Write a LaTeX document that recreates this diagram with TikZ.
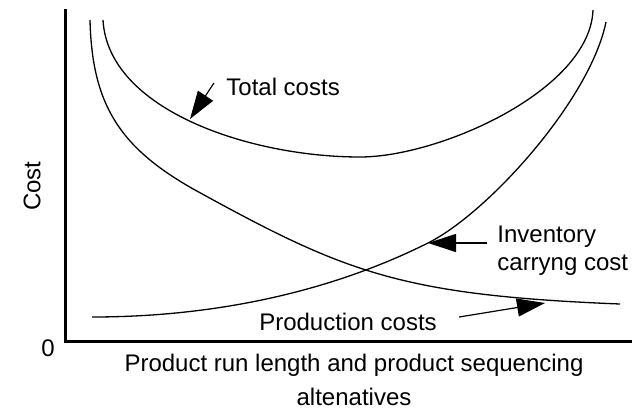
\documentclass[tikz,border=0pt]{standalone}
\usepackage{fontspec}
\setmainfont{Liberation Sans}
\usepackage{tikz}
\usetikzlibrary{arrows.meta, positioning, calc}

\begin{document}
\begin{tikzpicture}[x=0.5pt, y=-0.5pt,
        costcurve/.style={line width=0.65pt},
        costarrow/.style={line width=0.6pt, -{Triangle[length=14pt, width=9pt]}},
        costlabel/.style={font=\fontsize{12}{14}\selectfont, inner sep=0pt}]
    \useasboundingbox (0,0) rectangle (636,413);
    % axes
    \draw[line width=1.75pt] (65.5,9) -- (65.5,341.5) -- (632,341.5);
    \node[costlabel, rotate=90] (costaxis) at (32,186) {Cost};
    \node[costlabel] (zero) at (48,348) {0};
    \node[costlabel, align=center, font=\fontsize{12}{17}\selectfont] (runaxis) at (354,380)
        {Product run length and product sequencing\\ altenatives};
    % curves
    \draw[costcurve] (90,20) .. controls (92,105) and (120,148) .. (195,190)
        .. controls (345,272.5) and (400,295.2) .. (620,304);
    \draw[costcurve] (92,317) .. controls (212,317) and (328,293) .. (428,243)
        .. controls (488,213) and (590,100) .. (606,22);
    \draw[costcurve] (103,20) .. controls (108,110) and (250,157) .. (360,157)
        .. controls (440,157) and (590,90) .. (593,10);
    % labels
    \node[costlabel, anchor=west] (tot) at (226,87) {Total costs};
    \node[costlabel, anchor=west, align=left] (inv) at (497,251) {Inventory\\carryng cost};
    \node[costlabel] (prod) at (348,322) {Production costs};
    \coordinate (totTip) at (190,119);
    \coordinate (invTip) at (428,243);
    \coordinate (prodTip) at (545,303);
    \draw[costarrow] ([shift={(-12,-4)}]tot.west) -- (totTip);
    \draw[costarrow] ([shift={(-10,-8)}]inv.west) -- (invTip);
    \draw[costarrow] ([shift={(22,-5)}]prod.east) -- (prodTip);
\end{tikzpicture}
\end{document}
